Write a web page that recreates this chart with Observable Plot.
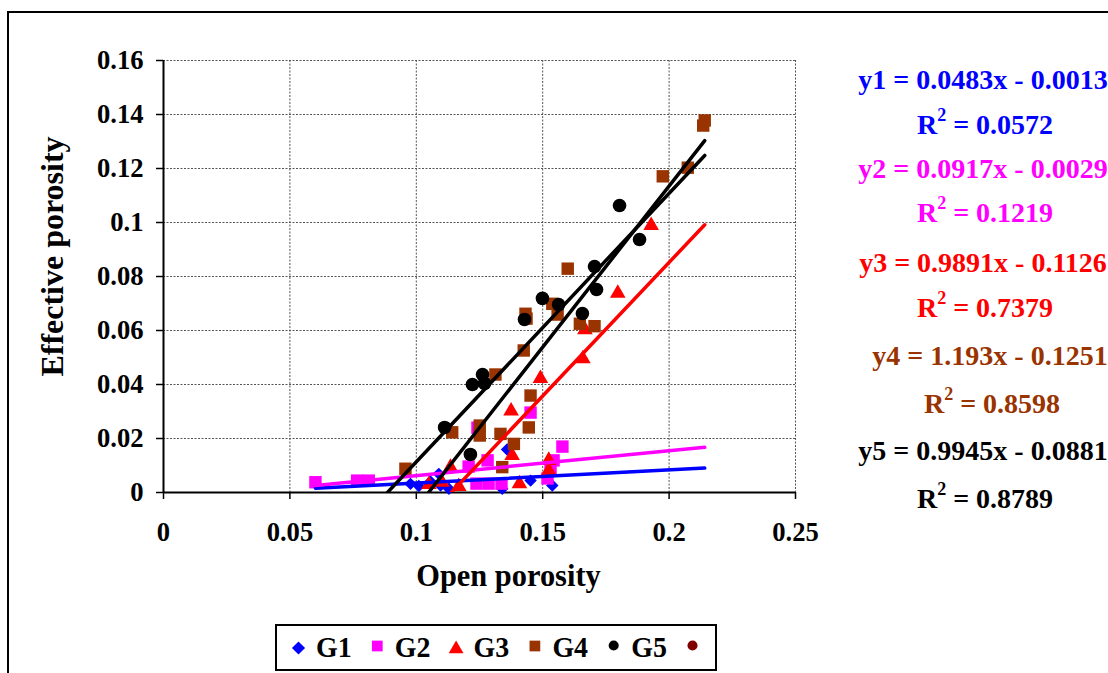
<!DOCTYPE html>
<html><head><meta charset="utf-8">
<script src="https://cdn.jsdelivr.net/npm/d3@7"></script>
<script src="https://cdn.jsdelivr.net/npm/@observablehq/plot@0.6"></script>
<style>
body{margin:0;background:#fff;}
#wrap{position:relative;width:1108px;height:673px;overflow:hidden;background:#fff;font-family:"Liberation Serif","Times New Roman",serif;font-weight:bold;}
#frame{position:absolute;left:7px;top:11px;width:1200px;height:800px;border:2px solid #000;box-sizing:border-box}
#chart{position:absolute;left:0;top:0}
#eq{position:absolute;left:0;top:0}
#legend{position:absolute;left:275px;top:624px}
</style></head><body>
<div id="wrap"><div id="frame"></div><div id="chart"></div><svg id="eq" width="1108" height="673"></svg><svg id="legend" width="443" height="48"></svg></div>
<script>
// ---- data ----
const groups = ["G1", "G2", "G3", "G4", "G5"];
const colors = ["#0000FF", "#FF00FF", "#FF0000", "#993300", "#000000"];
const lineColors = ["#0000FF", "#FF00FF", "#FF0000", "#000000", "#000000"];
const symbols = ["diamond2", "square", "triangle", "square", "circle"];

const g1x = [0.0977, 0.1010, 0.1056, 0.1089, 0.1096, 0.1129, 0.1340, 0.1359, 0.1452, 0.1538];
const g1y = [0.0032, 0.0024, 0.0041, 0.0069, 0.0026, 0.0014, 0.0014, 0.0159, 0.0044, 0.0026];
const g2x = [0.0601, 0.0766, 0.0812, 0.1207, 0.1238, 0.1242, 0.1282, 0.1286, 0.1337, 0.1452, 0.1519, 0.1531, 0.1543, 0.1578];
const g2y = [0.0038, 0.0044, 0.0044, 0.0096, 0.0033, 0.0240, 0.0119, 0.0033, 0.0033, 0.0296, 0.0052, 0.0081, 0.0119, 0.0170];
const g3x = [0.1050, 0.1101, 0.1135, 0.1168, 0.1375, 0.1379, 0.1408, 0.1491, 0.1524, 0.1524, 0.1659, 0.1667, 0.1797, 0.1929];
const g3y = [0.0030, 0.0038, 0.0093, 0.0022, 0.0302, 0.0137, 0.0032, 0.0422, 0.0119, 0.0081, 0.0495, 0.0603, 0.0738, 0.0989];
const g4x = [0.0957, 0.1142, 0.1251, 0.1251, 0.1313, 0.1333, 0.1340, 0.1386, 0.1425, 0.1432, 0.1436, 0.1445, 0.1452, 0.1538, 0.1559, 0.1599, 0.1647, 0.1705, 0.1975, 0.2074, 0.2135, 0.2141];
const g4y = [0.0088, 0.0223, 0.0248, 0.0211, 0.0437, 0.0217, 0.0094, 0.0180, 0.0526, 0.0662, 0.0644, 0.0241, 0.0359, 0.0699, 0.0659, 0.0829, 0.0625, 0.0616, 0.1171, 0.1203, 0.1359, 0.1378];
const g5x = [0.1112, 0.1214, 0.1222, 0.1262, 0.1270, 0.1428, 0.1499, 0.1563, 0.1657, 0.1705, 0.1713, 0.1804, 0.1883];
const g5y = [0.0241, 0.0141, 0.0400, 0.0437, 0.0404, 0.0641, 0.0719, 0.0696, 0.0663, 0.0837, 0.0752, 0.1063, 0.0937];

const slopes = [0.0483, 0.0917, 0.9891, 1.193, 0.9945];
const intercepts = [-0.0013, -0.0029, -0.1126, -0.1251, -0.0881];
const r2 = [0.0572, 0.1219, 0.7379, 0.8598, 0.8789];

const xTicks = [0, 0.05, 0.1, 0.15, 0.2, 0.25];
const yTicks = [0, 0.02, 0.04, 0.06, 0.08, 0.1, 0.12, 0.14, 0.16];

// ---- build tables ----
const xs = [g1x, g2x, g3x, g4x, g5x];
const ys = [g1y, g2y, g3y, g4y, g5y];
const series = groups.map((g, i) => xs[i].map((x, j) => ({g, x, y: ys[i][j]})));
const allPts = series.flat();
const xExt = d3.extent(allPts, d => d.x);
const trends = groups.map((g, i) => xExt.map(x => ({g, x, y: slopes[i] * x + intercepts[i]})));
const dotR = [5.6, 7, 5.8, 7, 6.8];

const fmt = d => String(d);
const gridStyle = {stroke: "#555", strokeOpacity: 1, strokeWidth: 1, strokeDasharray: "2,1.5"};

const chart = Plot.plot({
  width: 830, height: 620,
  marginLeft: 163, marginRight: 35, marginTop: 60, marginBottom: 128,
  x: {domain: [0, 0.25]},
  y: {domain: [0, 0.16]},
  style: {fontFamily: "'Liberation Serif', 'Times New Roman', serif", fontWeight: "bold", background: "transparent", color: "#000"},
  marks: [
    Plot.gridX(xTicks.slice(1), gridStyle),
    Plot.gridY(yTicks.slice(1), gridStyle),
    Plot.axisX(xTicks, {tickSize: 7, tickPadding: 22, tickFormat: fmt, fontSize: 28, fontWeight: "bold", label: null, strokeWidth: 1.5}),
    Plot.axisY(yTicks, {tickSize: 7, tickPadding: 13, tickFormat: fmt, fontSize: 28, fontWeight: "bold", label: null, strokeWidth: 1.5}),
    Plot.ruleX([0], {strokeWidth: 2}),
    Plot.ruleY([0], {strokeWidth: 2}),
    ...series.map((s, i) => Plot.dot(s, {x: "x", y: "y", symbol: symbols[i], fill: colors[i], r: dotR[i], stroke: "none"})),
    ...trends.map((t, i) => Plot.line(t, {x: "x", y: "y", stroke: lineColors[i], strokeWidth: 3.5, clip: true})),
    Plot.text(["Open porosity"], {text: d => d, frameAnchor: "bottom", dx: 29, dy: 93, fontSize: 32, fontWeight: "bold"}),
    Plot.text(["Effective porosity"], {text: d => d, frameAnchor: "left", textAnchor: "middle", rotate: -90, dx: -111, dy: -20, fontSize: 32, fontWeight: "bold"})
  ]
});
document.getElementById("chart").appendChild(chart);

// slight horizontal condensing of texts to match the reference typeface
chart.querySelectorAll("text").forEach(t => {
  if (t.textContent === "Effective porosity") return;
  const L = t.getComputedTextLength();
  if (L > 0) { t.setAttribute("textLength", L * 0.95); t.setAttribute("lengthAdjust", "spacingAndGlyphs"); }
});

// ---- equations ----
const eqCx = [983, 983, 983, 990, 983];
const eqB1 = [89, 178, 272, 365, 460];
const eqB2 = [134, 222, 317, 413, 508];
const eq = d3.select("#eq");
groups.forEach((g, i) => {
  eq.append("text").attr("x", eqCx[i]).attr("y", eqB1[i]).attr("text-anchor", "middle")
    .attr("fill", colors[i]).attr("font-size", 28).attr("font-weight", "bold")
    .text(`y${i + 1} = ${slopes[i]}x - ${Math.abs(intercepts[i])}`);
  const r = eq.append("text").attr("x", eqCx[i] + 2).attr("y", eqB2[i]).attr("text-anchor", "middle")
    .attr("fill", colors[i]).attr("font-size", 28).attr("font-weight", "bold");
  r.append("tspan").text("R");
  r.append("tspan").attr("font-size", 18).attr("dy", -13).text("2");
  r.append("tspan").attr("dy", 13).text(` = ${r2[i]}`);
});

// ---- legend ----
const lg = d3.select("#legend");
lg.append("rect").attr("x", 1).attr("y", 1).attr("width", 440).attr("height", 45).attr("fill", "#fff").attr("stroke", "#000").attr("stroke-width", 2);
const legNames = [...groups, ""];
const legColors = [...colors, "#800000"];
const legSym = [d3.symbolDiamond2, d3.symbolSquare, d3.symbolTriangle, d3.symbolSquare, d3.symbolCircle, d3.symbolCircle];
const legSize = [110, 115, 95, 115, 80, 80];
const legDy = [24, 22, 25, 22, 21.5, 21.5];
legNames.forEach((n, i) => {
  const cx = 23.5 + i * 78.8;
  lg.append("path").attr("d", d3.symbol(legSym[i], legSize[i])()).attr("transform", `translate(${cx},${legDy[i]})`).attr("fill", legColors[i]);
  if (n) {
    const t = lg.append("text").attr("x", cx + 17.5).attr("y", 33).attr("font-size", 30).attr("font-weight", "bold").attr("fill", "#000").text(n);
    const L = t.node().getComputedTextLength();
    t.attr("textLength", L * 0.93).attr("lengthAdjust", "spacingAndGlyphs");
  }
});
</script>
</body></html>
